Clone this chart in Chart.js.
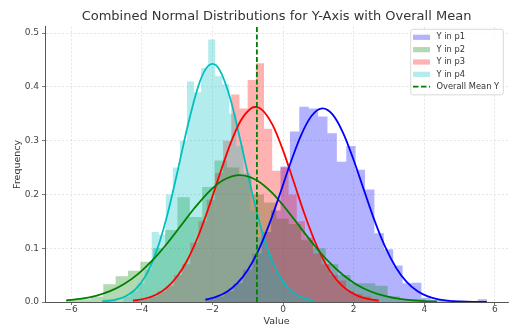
<!DOCTYPE html>
<html>
<head>
<meta charset="utf-8">
<script src="https://cdn.jsdelivr.net/npm/chart.js@4.4.1/dist/chart.umd.min.js"></script>
<style>
  html, body { margin: 0; padding: 0; background: #fff; }
  #wrap { width: 514px; height: 329px; }
</style>
</head>
<body>
<div id="wrap"><canvas id="distChart" width="514" height="329"></canvas></div>
<script>
// legend labels
const seriesLabels = ['Y in p1', 'Y in p2', 'Y in p3', 'Y in p4'];
const meanLabel = 'Overall Mean Y';

// histogram bins (density): first edge, bin width, bar heights
const p1Start = -2.2, p1Width = 0.266;
const p1Heights = [0.005, 0.01, 0.02, 0.035, 0.06, 0.09, 0.13, 0.17, 0.252, 0.317,
                   0.363, 0.36, 0.345, 0.314, 0.261, 0.29, 0.246, 0.209, 0.128, 0.098,
                   0.068, 0.035, 0.036, 0.008, 0.004, 0.004, 0, 0, 0, 0.005];
const p2Start = -6.14, p2Width = 0.35;
const p2Heights = [0.005, 0.005, 0.01, 0.033, 0.048, 0.058, 0.075, 0.1, 0.134, 0.195,
                   0.158, 0.214, 0.263, 0.25, 0.235, 0.2, 0.185, 0.155, 0.145, 0.115,
                   0.1, 0.07, 0.05, 0.035, 0.035, 0.03, 0.01, 0.005, 0.005, 0.003];
const p3Start = -4.25, p3Width = 0.232;
const p3Heights = [0.005, 0.005, 0.01, 0.02, 0.03, 0.05, 0.07, 0.11, 0.15, 0.19,
                   0.24, 0.3, 0.386, 0.36, 0.413, 0.444, 0.322, 0.244, 0.25, 0.2,
                   0.15, 0.12, 0.09, 0.07, 0.05, 0.04, 0.02, 0.015, 0.01, 0.005];
const p4Start = -5.12, p4Width = 0.2;
const p4Heights = [0.005, 0.005, 0, 0.01, 0.02, 0.035, 0.06, 0.13, 0.125, 0.2,
                   0.25, 0.30, 0.41, 0.39, 0.435, 0.488, 0.42, 0.405, 0.35, 0.29,
                   0.24, 0.17, 0.12, 0.09, 0.055, 0.04, 0.02, 0.01, 0.005, 0.005];

// fitted normal curves
const p1CurveX = [-2.2, -1.9, -1.6, -1.3, -1.0, -0.7, -0.4, -0.1, 0.2, 0.5, 0.8, 1.12, 1.4, 1.7,
                  2.0, 2.3, 2.6, 2.9, 3.2, 3.5, 3.8, 4.1, 4.4, 4.7, 5.0, 5.4, 5.77];
const p1CurveY = [0.0044, 0.0094, 0.0187, 0.0346, 0.0596, 0.0957, 0.1429, 0.1985, 0.2566, 0.3087,
                  0.3455, 0.36, 0.3489, 0.3147, 0.2641, 0.2063, 0.1499, 0.1014, 0.0638, 0.0373,
                  0.0203, 0.0103, 0.0049, 0.0021, 0.0009, 0.0002, 0.0001];
const p2CurveX = [-6.14, -5.7, -5.3, -4.9, -4.5, -4.1, -3.7, -3.3, -2.9, -2.5, -2.1, -1.7, -1.22,
                  -0.7, -0.3, 0.1, 0.5, 0.9, 1.3, 1.7, 2.1, 2.5, 2.9, 3.3, 3.7, 4.0, 4.36];
const p2CurveY = [0.0029, 0.0061, 0.0114, 0.0201, 0.0334, 0.0522, 0.0772, 0.1075, 0.1413, 0.1752,
                  0.205, 0.2263, 0.236, 0.2247, 0.2023, 0.1719, 0.1378, 0.1042, 0.0744, 0.0501,
                  0.0318, 0.0191, 0.0108, 0.0058, 0.0029, 0.0017, 0.0008];
const p3CurveX = [-4.25, -3.9, -3.6, -3.3, -3.0, -2.7, -2.4, -2.1, -1.8, -1.5, -1.2, -0.9, -0.78,
                  -0.6, -0.3, 0.0, 0.3, 0.6, 0.9, 1.2, 1.5, 1.8, 2.1, 2.4, 2.71];
const p3CurveY = [0.0025, 0.0065, 0.0136, 0.0263, 0.0473, 0.0791, 0.1227, 0.1766, 0.2359, 0.2928,
                  0.3372, 0.3605, 0.3627, 0.3579, 0.3298, 0.2821, 0.224, 0.1651, 0.113, 0.0718,
                  0.0423, 0.0232, 0.0118, 0.0056, 0.0024];
const p4CurveX = [-5.12, -4.8, -4.5, -4.2, -3.9, -3.6, -3.3, -3.0, -2.7, -2.4, -2.2, -2.0, -1.8,
                  -1.5, -1.2, -0.9, -0.6, -0.3, 0.0, 0.3, 0.6, 0.87];
const p4CurveY = [0.0011, 0.0035, 0.0094, 0.0223, 0.0477, 0.0913, 0.156, 0.239, 0.3274, 0.4013,
                  0.4322, 0.443, 0.4322, 0.3797, 0.2985, 0.2099, 0.1321, 0.0744, 0.0375, 0.0169,
                  0.0068, 0.0027];

const overallMean = -0.74;

// axes
const xTicks = [-6, -4, -2, 0, 2, 4, 6];
const yTicks = [0, 0.1, 0.2, 0.3, 0.4, 0.5];
const xMin = -6.74, xMax = 6.37, yMax = 0.512;

const lineColors = ['#0000ff', '#008000', '#ff0000', '#00bfbf'];
const fillColors = ['rgba(0,0,255,0.3)', 'rgba(0,128,0,0.3)', 'rgba(255,0,0,0.3)', 'rgba(0,191,191,0.3)'];

Chart.defaults.font.family = '"DejaVu Sans", sans-serif';

function histPoints(start, width, heights) {
    const pts = [];
    heights.forEach((h, i) => {
        pts.push({ x: start + i * width, y: h });
        pts.push({ x: start + (i + 1) * width, y: h });
    });
    return pts;
}

function curvePoints(xs, ys) {
    return xs.map((x, i) => ({ x: x, y: ys[i] }));
}

const hists = [
    histPoints(p1Start, p1Width, p1Heights),
    histPoints(p2Start, p2Width, p2Heights),
    histPoints(p3Start, p3Width, p3Heights),
    histPoints(p4Start, p4Width, p4Heights)
];
const curves = [
    curvePoints(p1CurveX, p1CurveY),
    curvePoints(p2CurveX, p2CurveY),
    curvePoints(p3CurveX, p3CurveY),
    curvePoints(p4CurveX, p4CurveY)
];

const datasets = [];
hists.forEach((pts, i) => {
    datasets.push({
        label: seriesLabels[i],
        data: pts,
        backgroundColor: fillColors[i],
        borderWidth: 0,
        fill: 'origin',
        pointRadius: 0,
        tension: 0,
        order: 5 - i
    });
});
curves.forEach((pts, i) => {
    datasets.push({
        label: '',
        data: pts,
        borderColor: lineColors[i],
        borderWidth: 1.8,
        fill: false,
        pointRadius: 0,
        cubicInterpolationMode: 'monotone',
        order: 1
    });
});
datasets.push({
    label: meanLabel,
    data: [{ x: overallMean, y: 0 }, { x: overallMean, y: yMax }],
    borderColor: '#008000',
    borderWidth: 1.8,
    borderDash: [5, 2.5],
    fill: false,
    pointRadius: 0,
    order: 0
});

// legend in the top right corner of the plot, like matplotlib's
const insideLegend = {
    id: 'insideLegend',
    afterDraw(chart) {
        const { ctx, chartArea } = chart;
        const items = chart.data.datasets.filter(d => d.label);
        ctx.save();
        ctx.font = '8.3px "DejaVu Sans"';
        const textW = Math.max(...items.map(d => ctx.measureText(d.label).width));
        const w = 26 + textW + 4;
        const h = 65.5;
        const x0 = chartArea.right - 4.7 - w;
        const y0 = chartArea.top + 2.6;
        ctx.fillStyle = 'rgba(255,255,255,0.8)';
        ctx.strokeStyle = '#d0d0d0';
        ctx.lineWidth = 0.8;
        ctx.beginPath();
        ctx.roundRect(x0, y0, w, h, 2);
        ctx.fill();
        ctx.stroke();
        items.forEach((d, i) => {
            const cy = y0 + 8 + i * 12.35;
            if (d.borderDash) {
                ctx.strokeStyle = d.borderColor;
                ctx.lineWidth = 1.8;
                ctx.setLineDash([5.5, 2.5]);
                ctx.beginPath();
                ctx.moveTo(x0 + 2.3, cy);
                ctx.lineTo(x0 + 19.3, cy);
                ctx.stroke();
                ctx.setLineDash([]);
            } else {
                ctx.fillStyle = d.backgroundColor;
                ctx.fillRect(x0 + 2.3, cy - 2.6, 17, 5.2);
            }
            ctx.fillStyle = '#333';
            ctx.textBaseline = 'middle';
            ctx.textAlign = 'left';
            ctx.fillText(d.label, x0 + 25.8, cy);
        });
        ctx.restore();
    }
};

const fmtTick = v => (v < 0 ? '\u2212' + Math.abs(v) : String(v));

new Chart(document.getElementById('distChart'), {
    type: 'line',
    data: { datasets: datasets },
    options: {
        responsive: false,
        devicePixelRatio: 1,
        animation: false,
        events: [],
        layout: { padding: { left: 0, right: 6, top: 0, bottom: 0 } },
        plugins: {
            legend: { display: false },
            tooltip: { enabled: false },
            title: {
                display: true,
                text: 'Combined Normal Distributions for Y-Axis with Overall Mean',
                fullSize: false,
                color: '#333',
                font: { size: 13, weight: 'normal' },
                padding: { top: 8.5, bottom: 2.6 }
            }
        },
        scales: {
            x: {
                type: 'linear',
                min: xMin,
                max: xMax,
                afterBuildTicks: scale => { scale.ticks = xTicks.map(v => ({ value: v })); },
                afterFit: scale => { scale.height = 27; },
                ticks: {
                    callback: fmtTick,
                    color: '#444',
                    font: { size: 9, lineHeight: 1 },
                    padding: 0,
                    maxRotation: 0
                },
                grid: { color: 'rgba(0,0,0,0.13)', lineWidth: 0.8, tickColor: '#555', tickLength: 3 },
                border: { color: '#555', width: 1, dash: [2, 2] },
                title: {
                    display: true,
                    text: 'Value',
                    color: '#333',
                    font: { size: 9.5 },
                    padding: { top: 0, bottom: 1.3 }
                }
            },
            y: {
                type: 'linear',
                min: 0,
                max: yMax,
                afterBuildTicks: scale => { scale.ticks = yTicks.map(v => ({ value: v })); },
                afterFit: scale => { scale.width = 45; },
                ticks: {
                    callback: v => v.toFixed(1),
                    color: '#444',
                    font: { size: 9 },
                    padding: 3
                },
                grid: { color: 'rgba(0,0,0,0.13)', lineWidth: 0.8, tickColor: '#555', tickLength: 3 },
                border: { color: '#555', width: 1, dash: [2, 2] },
                title: {
                    display: true,
                    text: 'Frequency',
                    color: '#333',
                    font: { size: 9.5 },
                    padding: { top: 11.6, bottom: 0 }
                }
            }
        }
    },
    plugins: [insideLegend]
});
</script>
</body>
</html>
